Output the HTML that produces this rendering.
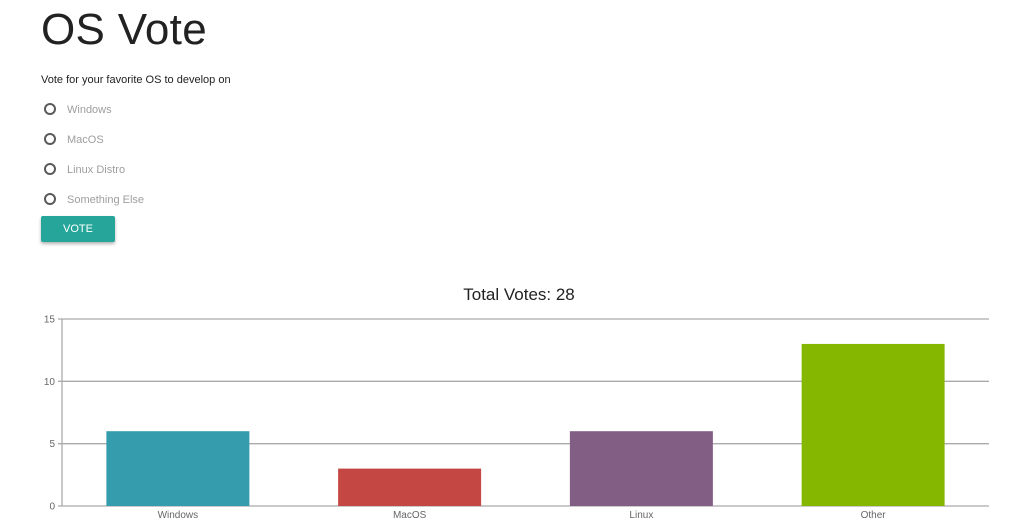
<!DOCTYPE html>
<html><head><meta charset="utf-8">
<style>
body{margin:0;width:1015px;height:524px;background:#fff;font-family:"Liberation Sans",sans-serif;position:relative;overflow:hidden}
h1{position:absolute;left:41px;top:5px;margin:0;font-weight:400;font-size:44px;color:#222;letter-spacing:0.3px}
.q{position:absolute;left:41px;top:74px;font-size:11px;color:#222}
.opt{position:absolute;left:44px;height:14px;font-size:11px;color:#9e9e9e}
.opt .c{position:absolute;left:0;top:0;width:8px;height:8px;border:2px solid #5a5a5a;border-radius:50%}
.opt span{position:absolute;left:23px;top:1px;white-space:nowrap}
.btn{position:absolute;left:41px;top:216px;width:74px;height:26px;background:#26a69a;color:#fff;font-size:11px;text-align:center;line-height:26px;border-radius:2px;box-shadow:0 2px 3px rgba(0,0,0,.3)}
</style></head><body>
<h1>OS Vote</h1>
<div class="q">Vote for your favorite OS to develop on</div>
<div class="opt" style="top:103px"><div class="c"></div><span>Windows</span></div>
<div class="opt" style="top:133px"><div class="c"></div><span>MacOS</span></div>
<div class="opt" style="top:163px"><div class="c"></div><span>Linux Distro</span></div>
<div class="opt" style="top:193px"><div class="c"></div><span>Something Else</span></div>
<div class="btn">VOTE</div>
<svg id="chart" width="1015" height="524" style="position:absolute;left:0;top:0"></svg>
<script>
const categories=["Windows","MacOS","Linux","Other"];
const votes=[6,3,6,13];
const colors=["#359cad","#c44744","#825e85","#85b700"];
const yTicks=[0,5,10,15];
const svg=document.getElementById('chart');
const NS='http://www.w3.org/2000/svg';
const L=62,R=989,T=319,B=506,yMax=15;
const y=v=>B-(v/yMax)*(B-T);
const band=(R-L)/categories.length;
const bw=band*0.617;
function mk(tag,attrs){const e=document.createElementNS(NS,tag);for(const k in attrs)e.setAttribute(k,attrs[k]);svg.appendChild(e);return e;}
const total=votes.reduce((a,b)=>a+b,0);
const t=mk('text',{x:519,y:300,'text-anchor':'middle','font-size':'17','fill':'#222','font-family':'Liberation Sans, sans-serif'});
t.textContent='Total Votes: '+total;


yTicks.forEach(v=>{
  const g=mk('line',{x1:L-4,x2:R,y1:y(v),y2:y(v),stroke:'#aaa','stroke-width':1.3});
  
  
  const tx=mk('text',{x:L-7,y:y(v)+3.5,'text-anchor':'end','font-size':'10','fill':'#666','font-family':'Liberation Sans, sans-serif'});
  tx.textContent=v;
  
  
});
const ax=mk('line',{x1:L,x2:L,y1:T,y2:B,stroke:'#aaa','stroke-width':1.3});


categories.forEach((c,i)=>{
  const cx=L+band*(i+0.5);
  const r=mk('rect',{x:cx-bw/2,y:y(votes[i]),width:bw,height:B-y(votes[i]),fill:colors[i]});
  
  
  const tx=mk('text',{x:cx,y:B+12,'text-anchor':'middle','font-size':'10','fill':'#666','font-family':'Liberation Sans, sans-serif'});
  tx.textContent=c;
  
  
});
</script>
</body></html>
